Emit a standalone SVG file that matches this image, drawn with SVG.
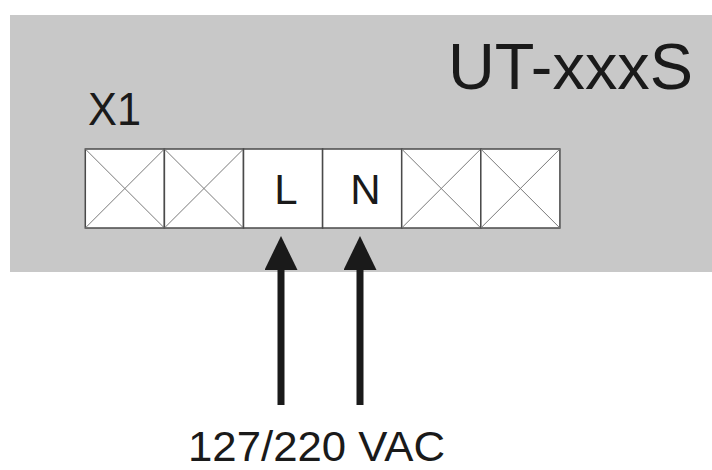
<svg xmlns="http://www.w3.org/2000/svg" width="712" height="470" viewBox="0 0 712 470">
  <style>
    .lbl { font-family: "Liberation Sans", Arial, sans-serif; fill: #1a1a1a; }
    .cell { fill: #ffffff; stroke: #4a4a4a; stroke-width: 1.5; }
    .cross { stroke: #7a7a7a; stroke-width: 1; fill: none; }
    .wire { stroke: #1a1a1a; stroke-width: 7; fill: none; }
  </style>
  <defs>
    <marker id="head" viewBox="0 0 34 33" refX="0" refY="16.5" markerWidth="34" markerHeight="33" markerUnits="userSpaceOnUse" orient="auto">
      <path d="M0,0 L34,16.5 L0,33 Z" fill="#1a1a1a"/>
    </marker>
  </defs>
  <rect width="712" height="470" fill="#ffffff"/>
  <g id="device">
    <rect x="10" y="15" width="702" height="257" fill="#c8c8c8"/>
    <text class="lbl" x="693" y="89" font-size="65" text-anchor="end" textLength="245" lengthAdjust="spacingAndGlyphs">UT-xxxS</text>
  </g>
  <g id="terminal-X1">
    <text class="lbl" x="88" y="125" font-size="47" textLength="53" lengthAdjust="spacingAndGlyphs">X1</text>
    <rect class="cell" x="85.3" y="149" width="79.1" height="79"/>
    <path class="cross" d="M85.3,149 L164.4,228 M164.4,149 L85.3,228"/>
    <rect class="cell" x="164.4" y="149" width="79.1" height="79"/>
    <path class="cross" d="M164.4,149 L243.5,228 M243.5,149 L164.4,228"/>
    <rect class="cell" x="243.5" y="149" width="79.1" height="79"/>
    <rect class="cell" x="322.6" y="149" width="79.1" height="79"/>
    <rect class="cell" x="401.7" y="149" width="79.1" height="79"/>
    <path class="cross" d="M401.7,149 L480.8,228 M480.8,149 L401.7,228"/>
    <rect class="cell" x="480.8" y="149" width="79.1" height="79"/>
    <path class="cross" d="M480.8,149 L559.9,228 M559.9,149 L480.8,228"/>
    <text class="lbl" x="286" y="204" font-size="42" text-anchor="middle">L</text>
    <text class="lbl" x="365.5" y="204" font-size="42" text-anchor="middle">N</text>
  </g>
  <g id="connectors">
    <line class="wire" x1="281" y1="405" x2="281" y2="270" marker-end="url(#head)"/>
    <line class="wire" x1="360" y1="405" x2="360" y2="270" marker-end="url(#head)"/>
  </g>
  <g id="supply">
    <text class="lbl" x="188" y="461" font-size="42.5" textLength="257" lengthAdjust="spacingAndGlyphs">127/220 VAC</text>
  </g>
</svg>
